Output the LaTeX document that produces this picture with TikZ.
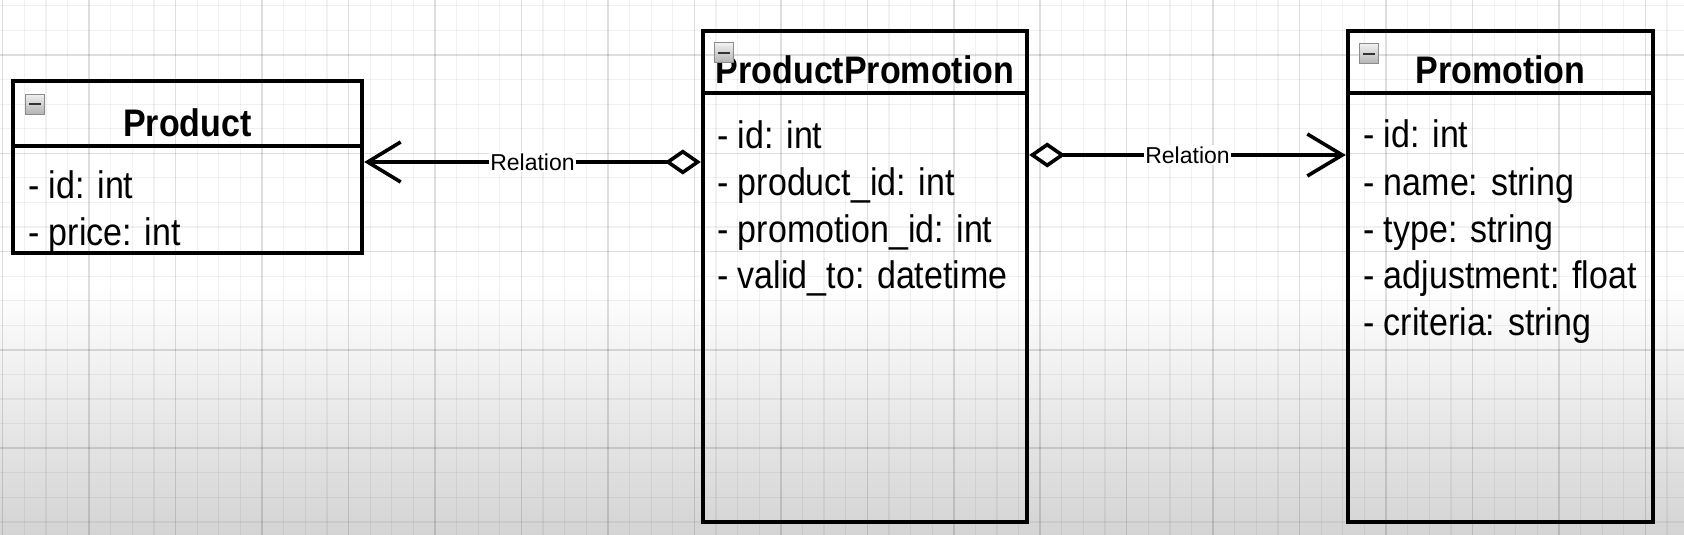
\documentclass[tikz,border=0pt]{standalone}
\usepackage{fontspec}
\usepackage{graphicx}
\setmainfont{Liberation Sans}
\usetikzlibrary{arrows.meta}
\newcommand\vsc[1]{\scalebox{1}[1.13]{#1}}
\tikzset{
  minorgrid/.style={draw=black, draw opacity=0.055, line width=1.2pt},
  majorgrid/.style={draw=black, draw opacity=0.13, line width=1.5pt},
  umlbox/.style={draw=black, line width=4.4pt, rectangle, inner sep=0pt},
  title/.style={inner sep=0pt, anchor=base, font=\fontsize{34}{40}\selectfont\bfseries},
  attr/.style={inner sep=0pt, anchor=base west, font=\fontsize{34}{40}\selectfont},
  lbl/.style={fill=white, inner sep=1.5pt, font=\fontsize{23}{26}\selectfont},
  conn/.style={line width=3.6pt},
  icon/.style={rectangle, minimum width=19pt, minimum height=20pt, inner sep=0pt,
    draw=black!45, line width=1pt, top color=black!6, bottom color=black!30,
    path picture={\draw[line width=2.6pt, black!80]
      ([xshift=3.5pt]path picture bounding box.west) -- ([xshift=-3.5pt]path picture bounding box.east);}},
}
\begin{document}
\begin{tikzpicture}[x=1pt, y=-1pt]
\useasboundingbox (0,0) rectangle (1684,535);
% background
\fill[white] (0,0) rectangle (1684,535);
\shade[top color=white, bottom color=black!17] (0,285) rectangle (1684,535);
% grid
\foreach \i in {0,...,77} {
  \pgfmathsetmacro\xx{2.7+21.615*\i}
  \pgfmathtruncatemacro\mm{mod(\i,4)}
  \ifnum\mm=0 \draw[majorgrid] (\xx,0) -- (\xx,535);
  \else \draw[minorgrid] (\xx,0) -- (\xx,535); \fi
}
\foreach \j in {0,...,21} {
  \pgfmathsetmacro\yy{5.85+24.575*\j}
  \pgfmathtruncatemacro\mm{mod(\j,4)}
  \ifnum\mm=2 \draw[majorgrid] (0,\yy) -- (1684,\yy);
  \else \draw[minorgrid] (0,\yy) -- (1684,\yy); \fi
}
% Product
\node[umlbox, minimum width=349pt, minimum height=65pt] (phead) at (187.5,113.5) {};
\node[umlbox, minimum width=349pt, minimum height=107pt] (pbody) at (187.5,199.5) {};
\node[icon] (picon) at (35,104) {};
\node[title] (ptitle) at (187.5,136) {\vsc{Product}};
\node[attr] (pa1) at (28,198) {\vsc{- id: int}};
\node[attr] (pa2) at (28,245) {\vsc{- price: int}};
% ProductPromotion
\node[umlbox, minimum width=324pt, minimum height=62pt] (pphead) at (865,62) {};
\node[umlbox, minimum width=324pt, minimum height=429pt] (ppbody) at (865,307.5) {};
\node[title] (pptitle) at (865,83) {\vsc{ProductPromotion}};
\node[icon] (ppicon) at (723.5,53) {};
\node[attr] (ppa1) at (717,148) {\vsc{- id: int}};
\node[attr] (ppa2) at (717,195) {\vsc{- product\_id: int}};
\node[attr] (ppa3) at (717,242) {\vsc{- promotion\_id: int}};
\node[attr] (ppa4) at (717,288) {\vsc{- valid\_to: datetime}};
% Promotion
\node[umlbox, minimum width=305pt, minimum height=62pt] (prhead) at (1500.5,62) {};
\node[umlbox, minimum width=305pt, minimum height=429pt] (prbody) at (1500.5,307.5) {};
\node[icon] (pricon) at (1369,54) {};
\node[title] (prtitle) at (1500.5,83) {\vsc{Promotion}};
\node[attr] (pra1) at (1363,147) {\vsc{- id: int}};
\node[attr] (pra2) at (1363,195) {\vsc{- name: string}};
\node[attr] (pra3) at (1363,242) {\vsc{- type: string}};
\node[attr] (pra4) at (1363,288) {\vsc{- adjustment: float}};
\node[attr] (pra5) at (1363,335) {\vsc{- criteria: string}};
% connectors
\coordinate (r1) at (0,162);
\coordinate (r2) at (0,155);
\draw[conn, {Straight Barb[length=33pt, width=40pt]}-{Diamond[length=36pt, width=25pt, fill=white]}]
  (pbody.east |- r1) -- node[lbl] (l1) {Relation} (ppbody.west |- r1);
\draw[conn, {Diamond[length=36pt, width=25pt, fill=white]}-{Straight Barb[length=35pt, width=42pt]}]
  (ppbody.east |- r2) -- node[lbl] (l2) {Relation} (prbody.west |- r2);
\end{tikzpicture}
\end{document}
